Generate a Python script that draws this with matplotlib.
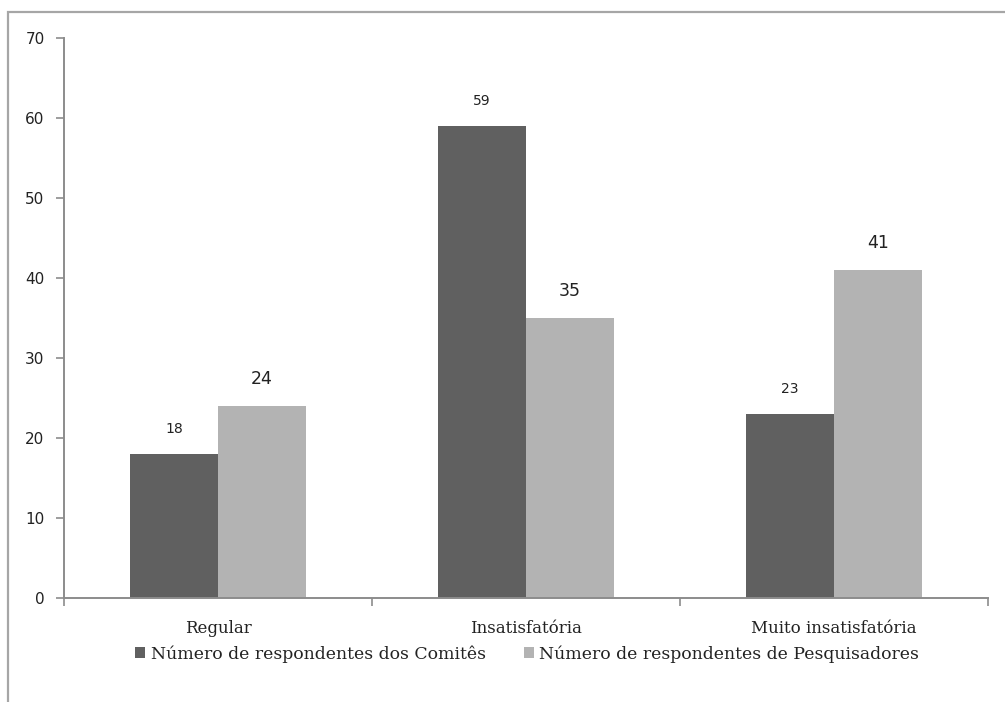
import matplotlib.pyplot as plt
from matplotlib.patches import Rectangle
import numpy as np

categories = ["Regular", "Insatisfatória", "Muito insatisfatória"]
comites = [18, 59, 23]
pesquisadores = [24, 35, 41]
series_names = ["Número de respondentes dos Comitês",
                "Número de respondentes de Pesquisadores"]
yticks = [0, 10, 20, 30, 40, 50, 60, 70]

dark = "#606060"
light = "#b3b3b3"
axis_col = "#8c8c8c"

fig = plt.figure(figsize=(10.05, 7.02), dpi=100)
ax = fig.add_axes([64 / 1005, 104 / 702, 924 / 1005, 560 / 702])

# outer frame around the chart area
fig.patches.append(Rectangle((8 / 1005, -0.05), 1.2, (702 - 12) / 702 + 0.05,
                             transform=fig.transFigure, fill=False,
                             edgecolor="#a6a6a6", linewidth=1.6, clip_on=False))

x = np.arange(len(categories))
w = 0.2857
b1 = ax.bar(x - w / 2, comites, w, color=dark, label=series_names[0])
b2 = ax.bar(x + w / 2, pesquisadores, w, color=light, label=series_names[1])

for rect, v in zip(b1, comites):
    ax.text(rect.get_x() + rect.get_width() / 2, v + 2.3, str(v),
            ha="center", va="bottom", fontsize=10, color="#222222",
            family="DejaVu Sans")
for rect, v in zip(b2, pesquisadores):
    ax.text(rect.get_x() + rect.get_width() / 2, v + 2.3, str(v),
            ha="center", va="bottom", fontsize=12.5, color="#222222",
            family="DejaVu Sans")

ax.set_xlim(-0.5, 2.5)
ax.set_ylim(0, 70)
ax.set_yticks(yticks)
ax.set_yticklabels([str(t) for t in yticks], fontsize=11, color="#222222",
                   family="DejaVu Sans")
ax.set_xticks([-0.5, 0.5, 1.5, 2.5])
ax.set_xticklabels([])
ax.set_xticks(x, minor=True)
ax.set_xticklabels(categories, minor=True, fontsize=12, color="#222222",
                   family="DejaVu Serif")
ax.tick_params(axis="x", which="minor", length=0, pad=16)
ax.tick_params(axis="x", which="major", length=6, color=axis_col, width=1.2)
ax.tick_params(axis="y", length=6, color=axis_col, width=1.2, pad=8)

for s in ["top", "right"]:
    ax.spines[s].set_visible(False)
for s in ["left", "bottom"]:
    ax.spines[s].set_color(axis_col)
    ax.spines[s].set_linewidth(1.4)

leg = fig.legend(handles=[b1, b2], labels=series_names, loc="center",
                 bbox_to_anchor=(527 / 1005, 1 - 654 / 702), ncol=2,
                 frameon=False, handlelength=0.6, handleheight=0.6,
                 handletextpad=0.3, columnspacing=2.2,
                 prop={"family": "DejaVu Serif", "size": 12.4})
for t in leg.get_texts():
    t.set_color("#222222")

fig.savefig("out.png", dpi=100)
